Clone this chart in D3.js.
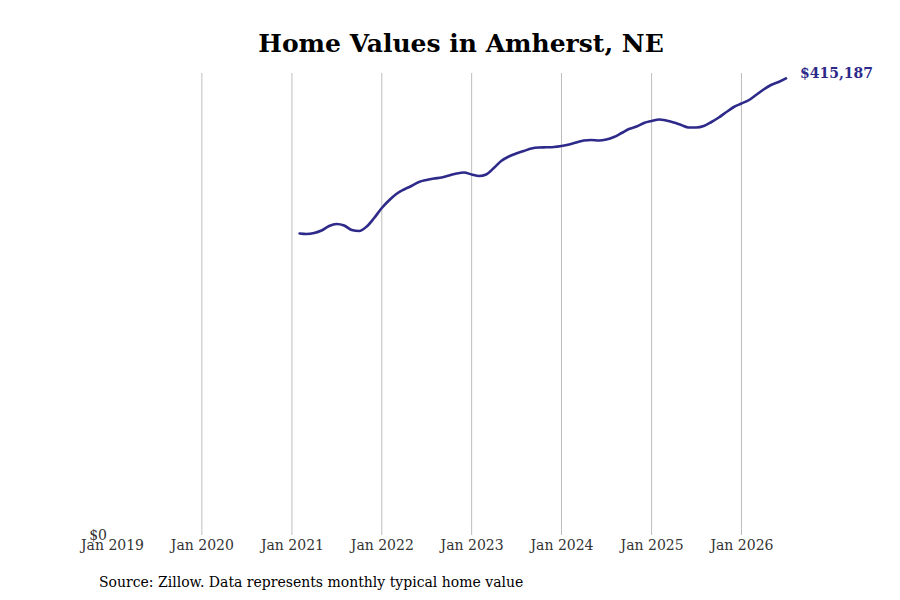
<!DOCTYPE html>
<html>
<head>
<meta charset="utf-8">
<script src="https://cdn.jsdelivr.net/npm/d3@7"></script>
<style>
  body { margin: 0; background: #fff; }
  text { font-family: "DejaVu Serif", serif; }
</style>
</head>
<body>
<div id="chart"></div>
<script>
// monthly typical home value, Feb 2021 .. Jul 2026
const startMonth = "2021-02";
const homeValues = [
  274091, 273636, 274545, 276818, 280909, 282727, 281364, 277273, 276364, 280455, 288182,
  297273, 304545, 310000, 314091, 317273, 320909, 322727, 324091, 325000, 326818, 328636, 329545,
  327727, 326364, 327727, 333636, 340000, 344091, 346818, 349091, 351364, 352273, 352455, 352727,
  353636, 355000, 356818, 358636, 359091, 358636, 359545, 361818, 365455, 369091, 371364, 374545,
  376364, 377727, 376818, 375000, 372727, 370455, 370455, 371818, 375455, 379545, 384545, 389091,
  392273, 395455, 400000, 405000, 409091, 411818, 415187
];
const tickYears = [2019, 2020, 2021, 2022, 2023, 2024, 2025, 2026];
const lastLabel = "$415,187";

window.onload = init;

function init()
{
    const width = 900;
    const height = 600;
    const svg = d3.select('#chart').append('svg').attr('width', width).attr('height', height);

    const parse = d3.timeParse('%Y-%m');
    const t0 = parse(startMonth);
    const data = homeValues.map((v, i) => ({ date: d3.timeMonth.offset(t0, i), value: v }));

    const x = d3.scaleTime()
        .domain([new Date(2019, 0, 1), new Date(2026, 6, 1)])
        .range([112, 786]);
    const y = d3.scaleLinear().domain([0, 420000]).range([535, 73]);

    // vertical grid lines at each January (none at first tick)
    svg.append('g').selectAll('line')
        .data(tickYears.slice(1))
        .enter().append('line')
        .attr('x1', d => x(new Date(d, 0, 1))).attr('x2', d => x(new Date(d, 0, 1)))
        .attr('y1', y.range()[1]).attr('y2', y.range()[0])
        .attr('stroke', '#bdbdbd').attr('stroke-width', 1);

    // x axis labels
    const xAxis = d3.axisBottom(x)
        .tickValues(tickYears.map(d => new Date(d, 0, 1)))
        .tickFormat(d3.timeFormat('Jan %Y'))
        .tickSize(0).tickPadding(5);
    const gx = svg.append('g').attr('transform', 'translate(0,535)').call(xAxis);
    gx.select('.domain').remove();
    gx.selectAll('text').attr('font-size', 14).attr('fill', '#333')
        .style('font-family', '"DejaVu Serif", serif');

    // y axis: only $0
    const yAxis = d3.axisLeft(y).tickValues([0]).tickFormat(d => '$' + d3.format(',')(d))
        .tickSize(0).tickPadding(5);
    const gy = svg.append('g').attr('transform', 'translate(112,0)').call(yAxis);
    gy.select('.domain').remove();
    gy.selectAll('text').attr('font-size', 14).attr('fill', '#333')
        .style('font-family', '"DejaVu Serif", serif');

    const line = d3.line()
        .x(d => x(d.date))
        .y(d => y(d.value))
        .curve(d3.curveMonotoneX);

    svg.append('path').datum(data)
        .attr('d', line)
        .attr('fill', 'none')
        .attr('stroke', '#2e2a8a')
        .attr('stroke-width', 2.6)
        .attr('stroke-linejoin', 'round')
        .attr('stroke-linecap', 'round');

    const last = data[data.length - 1];
    svg.append('text')
        .attr('x', x(last.date) + 14)
        .attr('y', y(last.value) - 5)
        .attr('dy', '0.35em')
        .attr('font-size', 14)
        .attr('font-weight', 'bold')
        .attr('fill', '#2e2a8a')
        .text(lastLabel);

    svg.append('text')
        .attr('x', 461).attr('y', 52)
        .attr('text-anchor', 'middle')
        .attr('font-size', 25).attr('font-weight', 'bold')
        .attr('fill', '#000')
        .text('Home Values in Amherst, NE');

    svg.append('text')
        .attr('x', 99).attr('y', 587)
        .attr('font-size', 14)
        .attr('fill', '#000')
        .text('Source: Zillow. Data represents monthly typical home value');
}
</script>
</body>
</html>
